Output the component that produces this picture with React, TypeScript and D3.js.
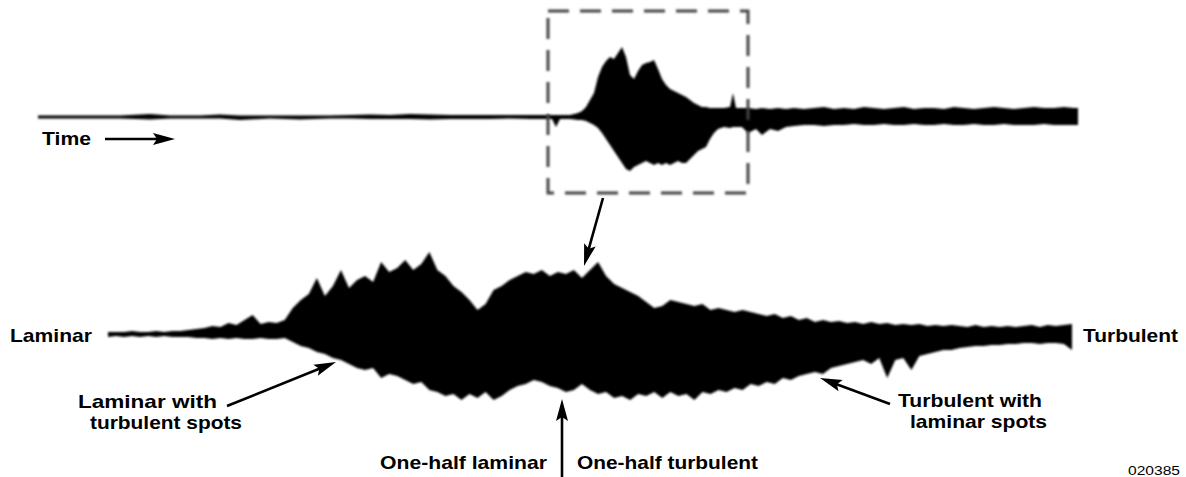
import React from "react";
import * as d3 from "d3";

// ---- Upper (overview) trace: envelope ----
const upperTime = [
  0, 22, 52, 82, 112, 132, 162, 182, 202, 232, 262, 292, 312, 332, 352, 372, 392, 412, 432, 452, 472, 492,
  507, 514, 518, 522, 532,
  540, 544, 548, 552, 556, 560, 564, 568, 572, 576, 580, 584, 588, 592, 596, 600, 604, 608, 612, 616, 620,
  624, 628, 632, 636, 640, 644, 648, 652, 656, 660, 664, 668, 672, 676, 680,
  686, 692, 695, 698, 704, 710, 718, 724, 732, 740, 748, 756,
  766, 776, 786, 796, 806, 816, 826, 836, 846, 856, 866, 876, 886, 896, 906, 916, 926, 936, 946, 956,
  966, 976, 986, 996, 1006, 1016, 1026, 1036,
  1040,
];
const upperTop = [
  1.5, 1.5, 1.5, 1.5, 3, 1.5, 1.5, 2.5, 1.5, 1.5, 1.5, 1.5, 2, 2.5, 2, 3, 2.5, 2, 2, 2, 2, 2,
  2, 2, 2, 2, 2,
  4, 6, 10, 17, 24, 40, 50, 56, 60, 58, 64, 70, 60, 42, 38, 46, 52, 54, 55, 57, 48,
  38, 32, 28, 26, 24, 22, 20, 17, 14, 12, 10, 10, 9, 9, 9,
  9, 10, 24, 9, 9, 9, 8, 9, 8, 9, 8, 9,
  8, 9, 10, 8, 9, 8, 10, 9, 8, 9, 10, 8, 9, 9, 8, 10, 9, 8, 9, 10,
  9, 8, 9, 10, 9, 9, 10, 9,
  9,
];
const upperBottom = [
  1.5, 1.5, 1.5, 1.5, 2.5, 1.5, 1.5, 1.5, 3, 1.5, 2.5, 1.5, 1.5, 2, 2, 2, 2.5, 2, 2, 2, 1.5, 2,
  2, 2, 10, 2, 2,
  3, 3, 4, 6, 8, 11, 16, 22, 28, 34, 40, 46, 52, 54, 50, 48, 46, 44, 46, 48, 46,
  48, 46, 48, 46, 44, 46, 46, 42, 38, 34, 32, 30, 22, 16, 12,
  10, 11, 10, 10, 10, 16, 12, 18, 12, 14, 10, 9,
  8, 8, 9, 8, 8, 7, 8, 8, 7, 8, 8, 7, 8, 8, 7, 8, 8, 7, 8, 8,
  7, 8, 8, 8, 7, 8, 8, 8,
  8,
];

// ---- Lower (zoomed) trace: envelope ----
const lowerTop = [
  2, 2, 2, 3, 2, 2, 3, 2, 3, 3,
  4, 5, 6, 8, 7, 11, 9, 14, 19, 10,
  12, 11, 14, 26, 34, 40, 56, 38, 48, 64,
  46, 54, 58, 52, 72, 62, 66, 74, 64, 70,
  82, 64, 58, 48, 42, 34, 24, 30, 44, 48,
  54, 58, 62, 60, 64, 58, 62, 60, 64, 56,
  64, 72, 58, 50, 46, 42, 38, 32, 26, 28,
  34, 32, 30, 28, 30, 24, 26, 24, 22, 24,
  22, 20, 18, 20, 16, 18, 14, 16, 12, 14,
  12, 13, 11, 12, 10, 12, 10, 11, 9, 10,
  9, 10, 8, 9, 8, 9, 8, 7, 9, 7,
  8, 7, 8, 7, 8, 9, 7, 9, 8, 9,
  10,
];
const lowerBottom = [
  3, 2, 3, 2, 3, 2, 3, 2, 3, 3,
  3, 4, 4, 5, 4, 5, 4, 5, 5, 4,
  5, 5, 4, 8, 12, 14, 18, 20, 24, 26,
  30, 34, 36, 34, 44, 40, 42, 46, 50, 48,
  56, 58, 62, 60, 66, 60, 64, 58, 66, 62,
  56, 52, 50, 46, 48, 52, 54, 58, 56, 50,
  56, 60, 58, 64, 62, 66, 60, 62, 58, 64,
  58, 62, 60, 66, 58, 60, 56, 58, 54, 56,
  50, 52, 48, 50, 44, 46, 42, 40, 38, 40,
  34, 32, 30, 28, 26, 30, 24, 44, 26, 24,
  36, 22, 20, 18, 16, 16, 14, 13, 12, 12,
  11, 11, 10, 10, 9, 9, 10, 9, 9, 10,
  16,
];

const W = 1186;
const H = 477;

function arrowHead(x1: number, y1: number, x2: number, y2: number, len: number, half: number) {
  const dx = x2 - x1;
  const dy = y2 - y1;
  const d = Math.hypot(dx, dy);
  const ux = dx / d;
  const uy = dy / d;
  const bx = x2 - ux * len;
  const by = y2 - uy * len;
  const px = -uy * half;
  const py = ux * half;
  return `M${x2},${y2}L${bx + px},${by + py}L${bx + ux * 4},${by + uy * 4}L${bx - px},${by - py}Z`;
}

function Arrow({ x1, y1, x2, y2 }: { x1: number; y1: number; x2: number; y2: number }) {
  const d = Math.hypot(x2 - x1, y2 - y1);
  const ex = x2 - ((x2 - x1) / d) * 12;
  const ey = y2 - ((y2 - y1) / d) * 12;
  return (
    <g>
      <line x1={x1} y1={y1} x2={ex} y2={ey} stroke="#000" strokeWidth={2.6} />
      <path d={arrowHead(x1, y1, x2, y2, 22, 6)} fill="#000" />
    </g>
  );
}

function Label({ x, y, w, text, size = 19 }: { x: number; y: number; w: number; text: string; size?: number }) {
  return (
    <text
      x={x}
      y={y}
      textLength={w}
      lengthAdjust="spacingAndGlyphs"
      fontFamily="'Liberation Sans', Arial, Helvetica, sans-serif"
      fontWeight="bold"
      fontSize={size}
      fill="#000"
    >
      {text}
    </text>
  );
}

export default function App() {
  // upper trace scales
  const xUp = d3.scaleLinear().domain([0, 1040]).range([38, 1078]);
  const yUp = d3.scaleLinear().domain([-100, 100]).range([217, 17]);
  const upData = upperTime.map((t, i) => ({ t, top: upperTop[i], bot: -upperBottom[i] }));
  const upArea = d3
    .area<{ t: number; top: number; bot: number }>()
    .x((d) => xUp(d.t))
    .y0((d) => yUp(d.bot))
    .y1((d) => yUp(d.top))
    .curve(d3.curveLinear);

  // lower trace scales
  const xLow = d3.scaleLinear().domain([0, lowerTop.length - 1]).range([108, 1072]);
  const yLow = d3.scaleLinear().domain([-100, 100]).range([434, 234]);
  const lowData = lowerTop.map((v, i) => ({ i, top: v, bot: -lowerBottom[i] }));
  const lowArea = d3
    .area<{ i: number; top: number; bot: number }>()
    .x((d) => xLow(d.i))
    .y0((d) => yLow(d.bot))
    .y1((d) => yLow(d.top))
    .curve(d3.curveLinear);

  return (
    <svg width={W} height={H} style={{ position: "absolute", left: 0, top: 0, background: "#fff" }}>
      <defs>
        <filter id="soft" x="-5%" y="-5%" width="110%" height="110%">
          <feGaussianBlur stdDeviation="0.8" />
        </filter>
      </defs>
      <rect x={0} y={0} width={W} height={H} fill="#fff" />

      {/* traces */}
      <path d={upArea(upData) || ""} fill="#000" filter="url(#soft)" />
      <path d={lowArea(lowData) || ""} fill="#000" filter="url(#soft)" />

      {/* dashed zoom box */}
      <rect
        x={548}
        y={11}
        width={200}
        height={182}
        fill="none"
        stroke="#444"
        strokeWidth={3}
        strokeDasharray="21 11"
        filter="url(#soft)"
      />

      {/* arrows */}
      <Arrow x1={105} y1={139} x2={175} y2={139} />
      <Arrow x1={603} y1={198} x2={584} y2={266} />
      <Arrow x1={227} y1={406} x2={336} y2={362} />
      <Arrow x1={890} y1={404} x2={820} y2={378} />
      <Arrow x1={562} y1={477} x2={562} y2={399} />

      {/* labels */}
      <Label x={42} y={145} w={49} text="Time" />
      <Label x={10} y={342} w={82} text="Laminar" />
      <Label x={1083} y={342} w={95} text="Turbulent" />
      <Label x={78} y={408} w={139} text="Laminar with" />
      <Label x={90} y={429} w={152} text="turbulent spots" />
      <Label x={380} y={469} w={167} text="One-half laminar" />
      <Label x={577} y={469} w={181} text="One-half turbulent" />
      <Label x={898} y={407} w={144} text="Turbulent with" />
      <Label x={910} y={428} w={137} text="laminar spots" />
      <text
        x={1128}
        y={475}
        textLength={52}
        lengthAdjust="spacingAndGlyphs"
        fontFamily="'Liberation Sans', Arial, Helvetica, sans-serif"
        fontSize={13}
        fill="#000"
      >
        020385
      </text>
    </svg>
  );
}
